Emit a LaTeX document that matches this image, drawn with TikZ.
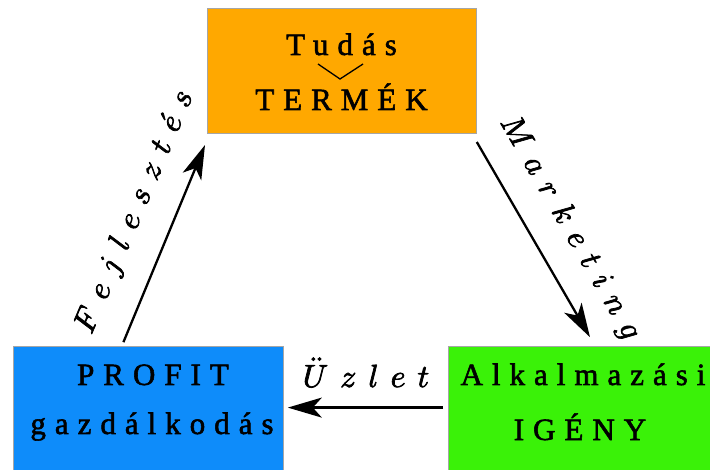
\documentclass[tikz,border=0pt]{standalone}
\usepackage[no-math]{fontspec}
\usepackage{graphicx}
\setmainfont{Liberation Serif}
\newfontfamily\boxfont[LetterSpace=29,FakeBold=1.8]{Liberation Serif}
\usetikzlibrary{arrows.meta}
\definecolor{cOrange}{RGB}{255,168,0}
\definecolor{cBlue}{RGB}{14,140,250}
\definecolor{cGreen}{RGB}{58,242,8}
\newcommand\mysp{\hspace{3.75pt}}
\newcommand\bigmath[1]{\scalebox{3.2}{\special{pdf:literal 2 Tr 0.22 w}$#1$\special{pdf:literal 0 Tr}}}
\begin{document}
\begin{tikzpicture}[x=1pt,y=1pt,
  boxnode/.style={draw=gray!70, line width=0.8pt, inner sep=0pt, anchor=south west},
  boxtext/.style={font=\fontsize{31}{36}\selectfont\boxfont, anchor=base, inner sep=0pt},
  lbl/.style={inner sep=0pt},
  conn/.style={line width=2.3pt, -{Stealth[length=34pt,width=20pt,inset=9pt]}}]
\clip (0,0) rectangle (710,469);
\node[boxnode, fill=cOrange, minimum width=269pt, minimum height=125pt] (tudas) at (207,335) {};
\node[boxnode, fill=cBlue, minimum width=270pt, minimum height=135pt] (profit) at (13,-13) {};
\node[boxnode, fill=cGreen, minimum width=275pt, minimum height=135pt] (igeny) at (448,-13) {};
\node[boxtext] (t1) at (341.5,414) {Tudás};
\node[boxtext] (t2) at (341.5,359) {TERMÉK};
\node[boxtext] (p1) at (153,84) {PROFIT};
\node[boxtext] (p2) at (152,35) {gazdálkodás};
\node[boxtext] (a1) at (583,84) {Alkalmazási};
\node[boxtext] (a2) at (580,29) {IGÉNY};
\coordinate (v1) at (318,405);
\coordinate (v2) at (340,390);
\coordinate (v3) at (363,405);
\draw[line width=1.3pt] (v1) -- (v2) -- (v3);
\draw[conn] ([shift={(-25,4)}]profit.north) -- ([shift={(-2,-11)}]tudas.south west);
\draw[conn] ([shift={(0,-8)}]tudas.south east) -- ([shift={(142,9)}]igeny.north west);
\draw[conn] ([shift={(-5,6.5)}]igeny.west) -- ([shift={(4,6.5)}]profit.east);
\node[lbl, rotate=67] (fej) at (135,257) {\bigmath{F\mysp e\mysp j\mysp l\mysp e\mysp s\mysp z\mysp t\mysp \acute{e}\mysp s}};
\node[lbl, rotate=-60] (mkt) at (570,241) {\bigmath{M\mysp a\mysp r\mysp k\mysp e\mysp t\mysp i\mysp n\mysp g}};
\node[lbl, anchor=base] (uz) at (366,82) {\bigmath{\ddot{U}\mysp z\mysp l\mysp e\mysp t}};
\end{tikzpicture}
\end{document}
